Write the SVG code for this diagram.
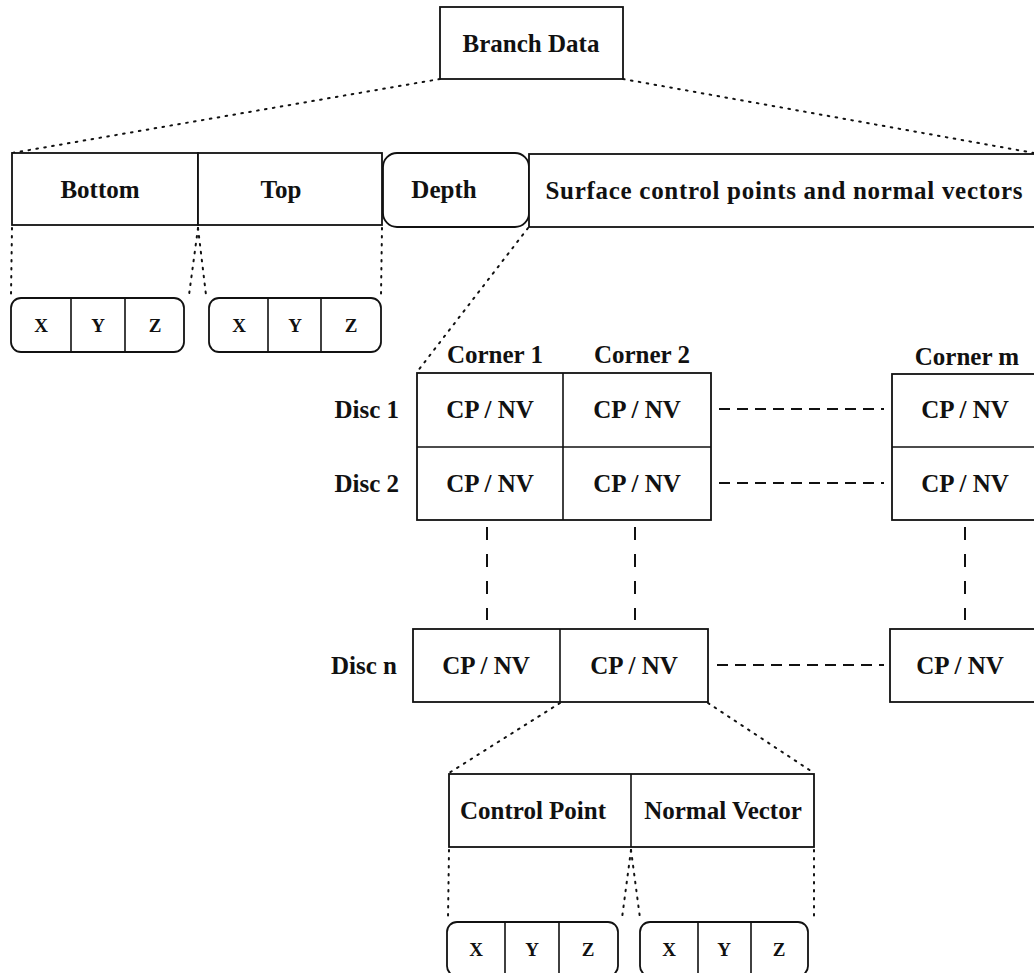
<svg xmlns="http://www.w3.org/2000/svg" width="1034" height="973" viewBox="0 0 1034 973">
<style>
.box{fill:#fff;stroke:#111;stroke-width:1.8}
.div{stroke:#111;stroke-width:1.6}
.t{font-family:"Liberation Serif","Times New Roman",serif;font-weight:bold;font-size:25px;fill:#111;text-anchor:middle}
.s{font-family:"Liberation Serif","Times New Roman",serif;font-weight:bold;font-size:19px;fill:#111;text-anchor:middle}
.r{text-anchor:end}
.dot{fill:none;stroke:#111;stroke-width:2;stroke-dasharray:1.6 6.4;stroke-linecap:round}
.dash{fill:none;stroke:#111;stroke-width:2;stroke-dasharray:11 7}
.vdash{fill:none;stroke:#111;stroke-width:2;stroke-dasharray:13 14}
</style>
<rect width="1034" height="973" fill="#fff"/>
<g id="connectors">
<line class="dot" x1="440" y1="79" x2="12" y2="153"/>
<line class="dot" x1="623" y1="79" x2="1034" y2="153"/>
<line class="dot" x1="12" y1="228" x2="11" y2="295"/>
<line class="dot" x1="198" y1="228" x2="189" y2="295"/>
<line class="dot" x1="198" y1="228" x2="206" y2="295"/>
<line class="dot" x1="382" y1="228" x2="381" y2="295"/>
<line class="dot" x1="528" y1="228" x2="417" y2="372"/>
<line class="dash" x1="719" y1="409" x2="884" y2="409"/>
<line class="dash" x1="719" y1="483" x2="884" y2="483"/>
<line class="dash" x1="717" y1="665" x2="884" y2="665"/>
<line class="vdash" x1="487" y1="527" x2="487" y2="620"/>
<line class="vdash" x1="635" y1="527" x2="635" y2="620"/>
<line class="vdash" x1="965" y1="527" x2="965" y2="620"/>
<line class="dot" x1="560" y1="703" x2="449" y2="773"/>
<line class="dot" x1="708" y1="703" x2="814" y2="773"/>
<line class="dot" x1="449" y1="850" x2="448" y2="918"/>
<line class="dot" x1="631" y1="850" x2="622" y2="918"/>
<line class="dot" x1="631" y1="850" x2="640" y2="918"/>
<line class="dot" x1="814" y1="850" x2="814" y2="918"/>
</g>
<g id="branch-data">
<rect class="box" x="440" y="7" width="183" height="72"/>
<text class="t" x="531" y="52">Branch Data</text>
</g>
<g id="bottom">
<rect class="box" x="12" y="153" width="186" height="72"/>
<text class="t" x="100" y="198">Bottom</text>
</g>
<g id="top">
<rect class="box" x="198" y="153" width="184" height="72"/>
<text class="t" x="281" y="198">Top</text>
</g>
<g id="depth">
<rect class="box" x="383" y="153" width="146" height="74" rx="14"/>
<text class="t" x="444" y="198">Depth</text>
</g>
<g id="surface">
<rect class="box" x="529" y="154" width="512" height="73"/>
<text class="t" x="784" y="199" textLength="477" lengthAdjust="spacing">Surface control points and normal vectors</text>
</g>
<g id="bottom-xyz">
<rect class="box" x="11" y="298" width="173" height="54" rx="10"/>
<line class="div" x1="71" y1="298" x2="71" y2="352"/>
<line class="div" x1="125" y1="298" x2="125" y2="352"/>
<text class="s" x="41" y="332">X</text>
<text class="s" x="98" y="332">Y</text>
<text class="s" x="155" y="332">Z</text>
</g>
<g id="top-xyz">
<rect class="box" x="209" y="298" width="172" height="54" rx="10"/>
<line class="div" x1="268" y1="298" x2="268" y2="352"/>
<line class="div" x1="321" y1="298" x2="321" y2="352"/>
<text class="s" x="239" y="332">X</text>
<text class="s" x="295" y="332">Y</text>
<text class="s" x="351" y="332">Z</text>
</g>
<g id="labels">
<text class="t" x="495" y="363">Corner 1</text>
<text class="t" x="642" y="363">Corner 2</text>
<text class="t" x="967" y="365">Corner m</text>
<text class="t r" x="399" y="418">Disc 1</text>
<text class="t r" x="399" y="492">Disc 2</text>
<text class="t r" x="397" y="674">Disc n</text>
</g>
<g id="grid-12">
<rect class="box" x="417" y="373" width="294" height="147"/>
<line class="div" x1="563" y1="373" x2="563" y2="520"/>
<line class="div" x1="417" y1="447" x2="711" y2="447"/>
<text class="t" x="490" y="418">CP / NV</text>
<text class="t" x="637" y="418">CP / NV</text>
<text class="t" x="490" y="492">CP / NV</text>
<text class="t" x="637" y="492">CP / NV</text>
</g>
<g id="grid-m">
<rect class="box" x="892" y="374" width="150" height="146"/>
<line class="div" x1="892" y1="447" x2="1042" y2="447"/>
<text class="t" x="965" y="418">CP / NV</text>
<text class="t" x="965" y="492">CP / NV</text>
</g>
<g id="disc-n">
<rect class="box" x="413" y="629" width="295" height="73"/>
<line class="div" x1="560" y1="629" x2="560" y2="702"/>
<text class="t" x="486" y="674">CP / NV</text>
<text class="t" x="634" y="674">CP / NV</text>
</g>
<g id="disc-n-m">
<rect class="box" x="890" y="629" width="152" height="73"/>
<text class="t" x="960" y="674">CP / NV</text>
</g>
<g id="cp-nv">
<rect class="box" x="449" y="774" width="365" height="73"/>
<line class="div" x1="631" y1="774" x2="631" y2="847"/>
<text class="t" x="533" y="819">Control Point</text>
<text class="t" x="723" y="819">Normal Vector</text>
</g>
<g id="cp-xyz">
<rect class="box" x="447" y="922" width="171" height="54" rx="10"/>
<line class="div" x1="505" y1="922" x2="505" y2="976"/>
<line class="div" x1="559" y1="922" x2="559" y2="976"/>
<text class="s" x="476" y="956">X</text>
<text class="s" x="532" y="956">Y</text>
<text class="s" x="588" y="956">Z</text>
</g>
<g id="nv-xyz">
<rect class="box" x="640" y="922" width="168" height="54" rx="10"/>
<line class="div" x1="698" y1="922" x2="698" y2="976"/>
<line class="div" x1="751" y1="922" x2="751" y2="976"/>
<text class="s" x="669" y="956">X</text>
<text class="s" x="724" y="956">Y</text>
<text class="s" x="779" y="956">Z</text>
</g>
</svg>
